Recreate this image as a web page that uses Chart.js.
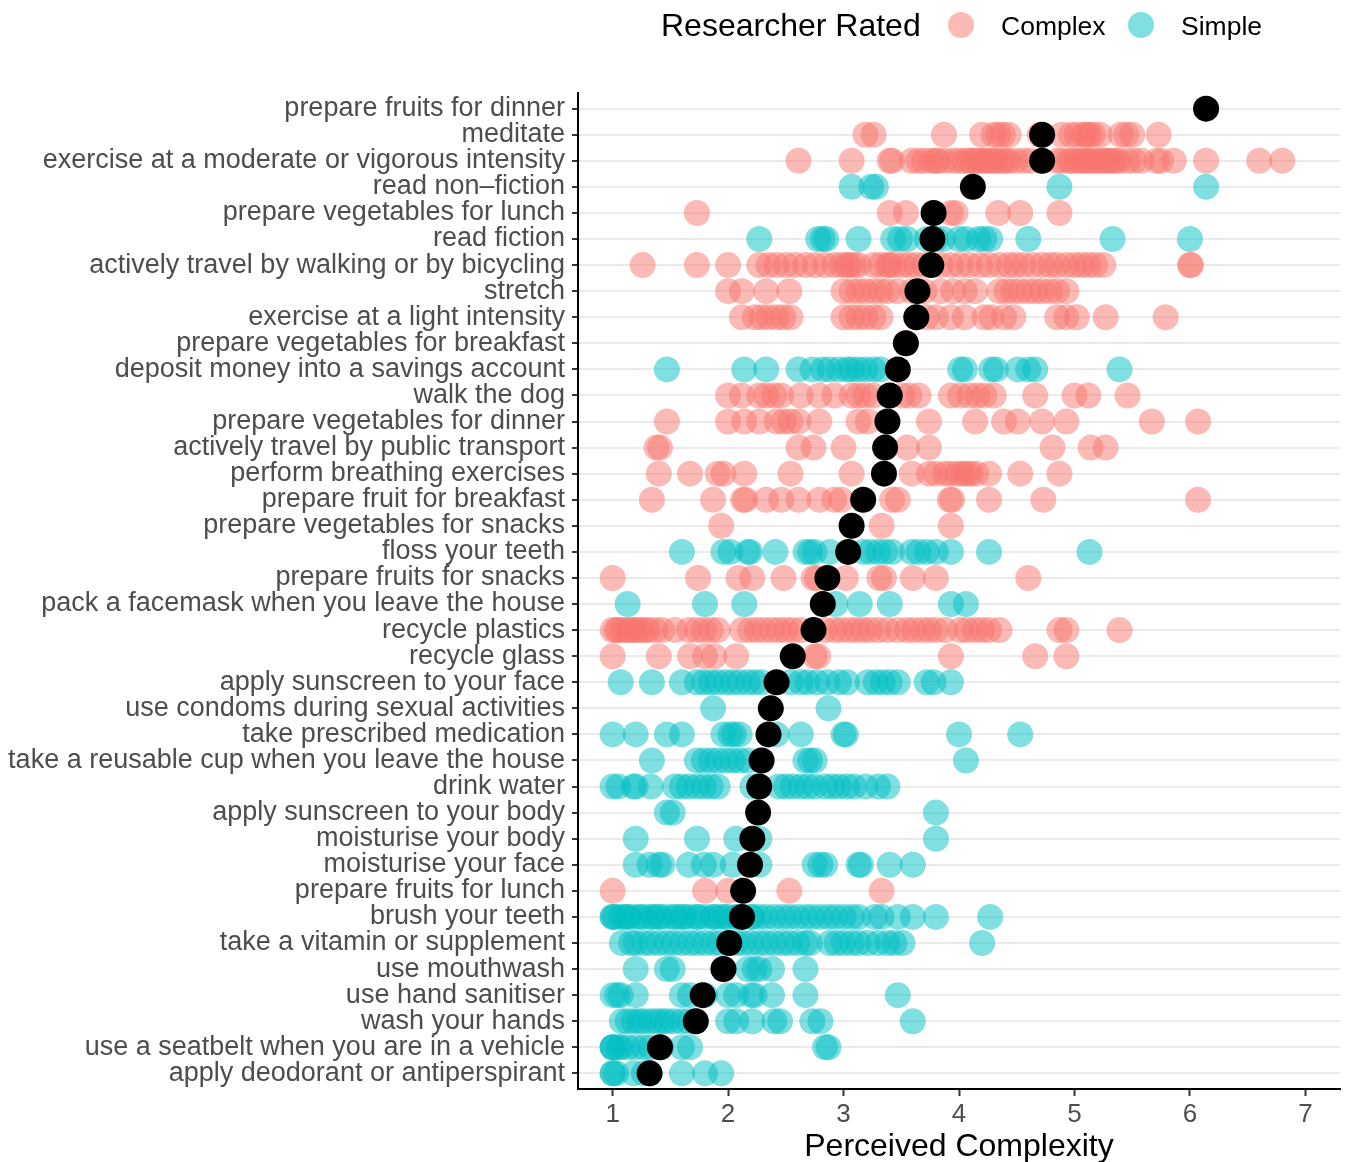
<!DOCTYPE html>
<html>
<head>
<meta charset="utf-8">
<title>Perceived Complexity of Everyday Behaviours</title>
<script src="https://cdn.jsdelivr.net/npm/chart.js@4.4.1/dist/chart.umd.min.js"></script>
<style>
  html, body { margin: 0; padding: 0; background: #ffffff; }
  #wrap { width: 1346px; height: 1162px; position: relative; }
  canvas { display: block; }
</style>
</head>
<body>
<div id="wrap"><canvas id="chart" width="1346" height="1162"></canvas></div>
<script>
// Behaviours, top to bottom
const categories = [
  "prepare fruits for dinner",
  "meditate",
  "exercise at a moderate or vigorous intensity",
  "read non\u2013fiction",
  "prepare vegetables for lunch",
  "read fiction",
  "actively travel by walking or by bicycling",
  "stretch",
  "exercise at a light intensity",
  "prepare vegetables for breakfast",
  "deposit money into a savings account",
  "walk the dog",
  "prepare vegetables for dinner",
  "actively travel by public transport",
  "perform breathing exercises",
  "prepare fruit for breakfast",
  "prepare vegetables for snacks",
  "floss your teeth",
  "prepare fruits for snacks",
  "pack a facemask when you leave the house",
  "recycle plastics",
  "recycle glass",
  "apply sunscreen to your face",
  "use condoms during sexual activities",
  "take prescribed medication",
  "take a reusable cup when you leave the house",
  "drink water",
  "apply sunscreen to your body",
  "moisturise your body",
  "moisturise your face",
  "prepare fruits for lunch",
  "brush your teeth",
  "take a vitamin or supplement",
  "use mouthwash",
  "use hand sanitiser",
  "wash your hands",
  "use a seatbelt when you are in a vehicle",
  "apply deodorant or antiperspirant"
];

// Researcher rating of each behaviour
const researcherRated = [
  "Complex", "Complex", "Complex", "Simple", "Complex", "Simple", "Complex", "Complex",
  "Complex", "Complex", "Simple", "Complex", "Complex", "Complex", "Complex", "Complex",
  "Complex", "Simple", "Complex", "Simple", "Complex", "Complex", "Simple", "Simple",
  "Simple", "Simple", "Simple", "Simple", "Simple", "Simple", "Complex", "Simple",
  "Simple", "Simple", "Simple", "Simple", "Simple", "Simple"
];

// Individual participant ratings of perceived complexity, per behaviour
const ratings = [
  [6.14],
  [3.19, 3.26, 3.87, 4.20, 4.30, 4.34, 4.38, 4.43, 4.70, 4.89, 4.97, 5.02, 5.08, 5.10, 5.13, 5.16, 5.22, 5.40, 5.45, 5.50, 5.73],
  [2.61, 3.07, 3.40, 3.42, 3.59, 3.65, 3.70, 3.76, 3.80, 3.82, 3.88, 3.95, 4.00, 4.05, 4.09, 4.12, 4.15, 4.18, 4.21, 4.24,
   4.27, 4.30, 4.33, 4.37, 4.40, 4.43, 4.49, 4.56, 4.62, 4.72, 4.85, 4.89, 4.95, 4.98, 5.02, 5.05, 5.08, 5.11, 5.14, 5.17,
   5.21, 5.24, 5.27, 5.30, 5.33, 5.36, 5.39, 5.46, 5.52, 5.58, 5.71, 5.75, 5.86, 6.14, 6.60, 6.80],
  [3.07, 3.24, 3.28, 4.87, 6.14],
  [1.73, 3.40, 3.54, 3.78, 3.93, 3.97, 4.34, 4.53, 4.87],
  [2.27, 2.78, 2.82, 2.85, 3.13, 3.43, 3.49, 3.55, 3.72, 3.80, 3.86, 4.00, 4.06, 4.17, 4.22, 4.27, 4.60, 5.33, 6.00],
  [1.26, 1.73, 2.00, 2.27, 2.35, 2.42, 2.50, 2.58, 2.67, 2.75, 2.84, 2.92, 2.98, 3.03, 3.05, 3.09, 3.13, 3.26, 3.32, 3.38,
   3.40, 3.44, 3.51, 3.57, 3.63, 3.70, 3.84, 3.93, 4.01, 4.09, 4.18, 4.26, 4.35, 4.43, 4.49, 4.56, 4.64, 4.72, 4.79, 4.85,
   4.93, 5.00, 5.06, 5.12, 5.18, 5.25, 6.00, 6.01],
  [2.00, 2.12, 2.33, 2.53, 3.00, 3.07, 3.13, 3.19, 3.26, 3.32, 3.38, 3.47, 3.59, 3.70, 3.84, 3.95, 4.05, 4.14, 4.35, 4.41,
   4.47, 4.53, 4.60, 4.66, 4.72, 4.79, 4.85, 4.93],
  [2.12, 2.23, 2.29, 2.35, 2.42, 2.48, 2.54, 3.00, 3.07, 3.13, 3.19, 3.26, 3.32, 3.72, 3.80, 3.93, 4.05, 4.22, 4.28, 4.39,
   4.47, 4.85, 4.93, 5.02, 5.27, 5.79],
  [3.54],
  [1.47, 2.14, 2.33, 2.61, 2.73, 2.82, 2.88, 2.96, 3.03, 3.07, 3.13, 3.19, 3.26, 3.32, 4.01, 4.05, 4.28, 4.32, 4.51, 4.60,
   4.66, 5.39],
  [2.00, 2.12, 2.27, 2.33, 2.40, 2.46, 2.63, 2.79, 2.92, 3.07, 3.13, 3.19, 3.26, 3.51, 3.57, 3.65, 3.93, 4.01, 4.09, 4.16,
   4.22, 4.30, 4.66, 5.00, 5.12, 5.46],
  [1.47, 2.00, 2.14, 2.27, 2.42, 2.48, 2.54, 2.61, 2.79, 3.13, 3.21, 3.74, 4.14, 4.39, 4.51, 4.72, 4.93, 5.67, 6.07],
  [1.38, 1.41, 2.61, 2.74, 3.00, 3.55, 3.74, 4.81, 5.14, 5.27],
  [1.40, 1.67, 1.91, 1.96, 2.14, 2.54, 3.07, 3.59, 3.74, 3.80, 3.88, 3.93, 3.99, 4.03, 4.07, 4.10, 4.15, 4.26, 4.53, 4.87],
  [1.34, 1.87, 2.13, 2.15, 2.33, 2.46, 2.61, 2.79, 2.92, 2.98, 3.42, 3.47, 3.92, 3.94, 4.26, 4.73, 6.07],
  [1.94, 3.33, 3.93],
  [1.60, 1.96, 2.02, 2.17, 2.19, 2.41, 2.67, 2.71, 2.75, 2.88, 3.17, 3.23, 3.30, 3.36, 3.42, 3.59, 3.65, 3.72, 3.80, 3.93,
   4.26, 5.13],
  [1.00, 1.74, 2.09, 2.21, 2.48, 2.74, 2.77, 3.02, 3.31, 3.35, 3.60, 3.80, 4.60],
  [1.13, 1.80, 2.14, 2.93, 3.14, 3.40, 3.93, 4.06],
  [1.00, 1.03, 1.05, 1.08, 1.12, 1.15, 1.18, 1.21, 1.24, 1.28, 1.31, 1.37, 1.43, 1.54, 1.66, 1.73, 1.79, 1.85, 1.91, 2.12,
   2.19, 2.25, 2.31, 2.38, 2.44, 2.50, 2.56, 2.63, 2.84, 2.92, 2.98, 3.05, 3.11, 3.17, 3.23, 3.30, 3.38, 3.47, 3.55, 3.61,
   3.68, 3.74, 3.80, 3.88, 4.01, 4.07, 4.14, 4.20, 4.26, 4.35, 4.87, 4.93, 5.39],
  [1.00, 1.40, 1.67, 1.80, 1.88, 2.07, 2.75, 2.78, 3.93, 4.66, 4.93],
  [1.07, 1.34, 1.60, 1.73, 1.79, 1.85, 1.91, 1.98, 2.04, 2.10, 2.17, 2.23, 2.29, 2.54, 2.63, 2.69, 2.77, 2.86, 2.96, 3.03,
   3.21, 3.28, 3.34, 3.40, 3.47, 3.72, 3.78, 3.93],
  [1.87, 2.87],
  [1.00, 1.20, 1.47, 1.60, 1.96, 2.02, 2.05, 2.10, 2.42, 2.63, 3.00, 3.02, 4.00, 4.53],
  [1.34, 1.73, 1.79, 1.85, 1.91, 1.98, 2.04, 2.10, 2.17, 2.29, 2.67, 2.71, 2.75, 4.06],
  [1.00, 1.05, 1.18, 1.20, 1.33, 1.54, 1.60, 1.66, 1.73, 1.79, 1.85, 1.91, 2.21, 2.27, 2.44, 2.50, 2.56, 2.63, 2.69, 2.75,
   2.84, 2.90, 2.96, 3.03, 3.09, 3.19, 3.30, 3.38],
  [1.47, 1.52, 3.80],
  [1.20, 1.73, 2.07, 2.27, 3.80],
  [1.20, 1.32, 1.40, 1.43, 1.66, 1.79, 1.87, 2.04, 2.27, 2.75, 2.80, 2.84, 3.13, 3.15, 3.40, 3.60],
  [1.00, 1.80, 2.00, 2.53, 3.33],
  [1.00, 1.00, 1.02, 1.07, 1.10, 1.13, 1.14, 1.20, 1.24, 1.27, 1.33, 1.35, 1.40, 1.41, 1.47, 1.53, 1.55, 1.60, 1.62, 1.67,
   1.73, 1.74, 1.80, 1.87, 1.88, 1.93, 1.97, 2.00, 2.07, 2.08, 2.13, 2.20, 2.21, 2.27, 2.33, 2.40, 2.47, 2.53, 2.60, 2.67,
   2.73, 2.80, 2.87, 2.93, 3.00, 3.07, 3.13, 3.27, 3.33, 3.47, 3.60, 3.80, 4.27],
  [1.08, 1.16, 1.20, 1.27, 1.33, 1.40, 1.47, 1.53, 1.60, 1.67, 1.73, 1.80, 1.87, 1.93, 2.00, 2.07, 2.13, 2.20, 2.27, 2.33,
   2.40, 2.47, 2.53, 2.60, 2.67, 2.71, 2.88, 2.94, 3.00, 3.07, 3.13, 3.21, 3.30, 3.38, 3.44, 3.51, 4.20],
  [1.20, 1.47, 1.52, 1.96, 2.17, 2.23, 2.27, 2.38, 2.67],
  [1.00, 1.04, 1.07, 1.20, 1.60, 1.67, 1.80, 2.00, 2.07, 2.20, 2.23, 2.38, 2.67, 3.47],
  [1.08, 1.13, 1.18, 1.23, 1.27, 1.33, 1.38, 1.43, 1.47, 1.53, 1.60, 1.66, 1.72, 2.00, 2.07, 2.21, 2.40, 2.45, 2.73, 2.80,
   3.60],
  [1.00, 1.00, 1.00, 1.05, 1.07, 1.13, 1.20, 1.27, 1.33, 1.42, 1.60, 1.67, 2.84, 2.87],
  [1.00, 1.00, 1.03, 1.18, 1.27, 1.32, 1.60, 1.80, 1.94]
];

// Mean perceived complexity per behaviour
const categoryMeans = [
  6.14, 4.72, 4.72, 4.12, 3.78, 3.77, 3.76, 3.64, 3.63, 3.54,
  3.47, 3.40, 3.38, 3.36, 3.35, 3.17, 3.07, 3.04, 2.86, 2.82,
  2.74, 2.56, 2.42, 2.37, 2.35, 2.29, 2.27, 2.26, 2.21, 2.19,
  2.13, 2.12, 2.01, 1.96, 1.78, 1.72, 1.41, 1.32
];

const xTicks = [1, 2, 3, 4, 5, 6, 7];
const groups = ["Complex", "Simple"];

const groupColors = {
  Complex: "rgba(248, 118, 109, 0.5)",
  Simple: "rgba(0, 191, 196, 0.5)"
};

const FONT = '"Liberation Sans", Arial, Helvetica, sans-serif';

// Build scatter points: one row per behaviour
const pointsByGroup = { Complex: [], Simple: [] };
ratings.forEach((vals, i) => {
  vals.forEach(v => pointsByGroup[researcherRated[i]].push({ x: v, y: i }));
});
const meanPoints = categoryMeans.map((m, i) => ({ x: m, y: i }));

// Legend across the top: title plus one key per rating group
const topLegend = {
  id: 'topLegend',
  afterDraw(chart) {
    const ctx = chart.ctx;
    ctx.save();
    ctx.textAlign = 'left';
    ctx.textBaseline = 'alphabetic';
    ctx.fillStyle = '#000000';
    ctx.font = '32px ' + FONT;
    ctx.fillText('Researcher Rated', 661, 36);
    const keys = [
      { label: groups[0], cx: 961, tx: 1001 },
      { label: groups[1], cx: 1141, tx: 1181 }
    ];
    ctx.font = '26.5px ' + FONT;
    keys.forEach(k => {
      ctx.beginPath();
      ctx.arc(k.cx, 25, 13, 0, Math.PI * 2);
      ctx.fillStyle = groupColors[k.label];
      ctx.fill();
      ctx.fillStyle = '#000000';
      ctx.fillText(k.label, k.tx, 35);
    });
    ctx.restore();
  }
};

new Chart(document.getElementById('chart'), {
  type: 'scatter',
  data: {
    datasets: [
      {
        label: 'Mean',
        data: meanPoints,
        backgroundColor: '#000000',
        pointRadius: 13,
        pointHoverRadius: 13,
        borderWidth: 0,
        order: 0
      },
      {
        label: groups[0],
        data: pointsByGroup.Complex,
        backgroundColor: groupColors.Complex,
        pointRadius: 13,
        pointHoverRadius: 13,
        borderWidth: 0,
        order: 1
      },
      {
        label: groups[1],
        data: pointsByGroup.Simple,
        backgroundColor: groupColors.Simple,
        pointRadius: 13,
        pointHoverRadius: 13,
        borderWidth: 0,
        order: 2
      }
    ]
  },
  options: {
    responsive: false,
    animation: false,
    events: [],
    layout: { autoPadding: false, padding: { top: 93, right: 6, bottom: 0, left: 0 } },
    plugins: {
      legend: { display: false },
      tooltip: { enabled: false }
    },
    scales: {
      x: {
        type: 'linear',
        min: 0.7,
        max: 7.3,
        afterBuildTicks: axis => { axis.ticks = xTicks.map(v => ({ value: v })); },
        afterFit: axis => {
          axis.height = 73;
          axis.paddingLeft = 0;
          axis.paddingRight = 0;
        },
        grid: {
          drawOnChartArea: false,
          drawTicks: true,
          tickLength: 7,
          tickColor: '#333333',
          tickWidth: 2
        },
        border: { display: true, color: '#000000', width: 2 },
        ticks: {
          color: '#4D4D4D',
          padding: 3,
          font: { family: FONT, size: 26 },
          callback: v => String(v)
        },
        title: {
          display: true,
          text: 'Perceived Complexity',
          color: '#000000',
          font: { family: FONT, size: 32, lineHeight: 0.95 },
          padding: { top: 0, bottom: 0 }
        }
      },
      y: {
        type: 'linear',
        reverse: true,
        min: -0.6,
        max: categories.length - 1 + 0.6,
        afterBuildTicks: axis => { axis.ticks = categories.map((c, i) => ({ value: i })); },
        afterFit: axis => {
          axis.width = 578;
          axis.paddingTop = 0;
          axis.paddingBottom = 0;
        },
        grid: {
          color: '#EBEBEB',
          lineWidth: 2,
          drawTicks: true,
          tickLength: 6,
          tickColor: '#333333',
          tickWidth: 2
        },
        border: { display: true, color: '#000000', width: 2 },
        ticks: {
          color: '#4D4D4D',
          padding: 7,
          autoSkip: false,
          font: { family: FONT, size: 27 },
          callback: v => categories[v]
        }
      }
    }
  },
  plugins: [topLegend]
});
</script>
</body>
</html>
